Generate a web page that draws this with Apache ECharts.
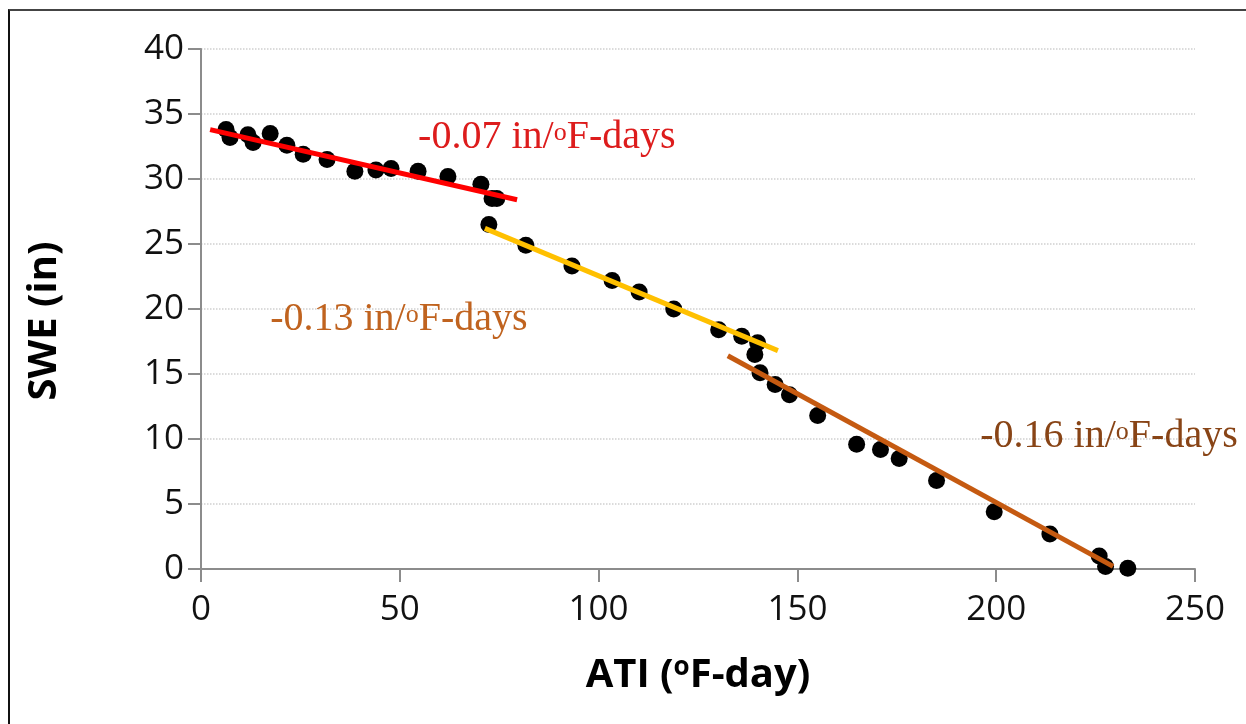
<!DOCTYPE html>
<html>
<head>
<meta charset="utf-8">
<script src="https://cdn.jsdelivr.net/npm/echarts@6/dist/echarts.min.js"></script>
<style>
html,body{margin:0;padding:0;background:#fff;}
#chart{width:1246px;height:724px;position:absolute;left:0;top:0;}
#frame{position:absolute;left:8px;top:9px;width:1238px;height:715px;border-top:2px solid #444;border-left:2px solid #111;pointer-events:none;}
</style>
</head>
<body>
<div id="chart"></div>
<div id="frame"></div>
<script>
// Observed points: ATI (°F-day) vs SWE (in)
const ati = [6.3,7.3,11.8,13.1,17.4,21.6,25.7,31.7,38.7,44.0,47.8,54.6,62.1,70.4,73.2,74.4,72.4,81.7,93.3,103.4,110.2,118.9,130.2,136.0,140.0,139.3,140.6,144.4,148.0,155.1,164.9,170.9,175.6,185.0,199.5,213.5,225.9,227.5,233.1];
const swe = [33.8,33.2,33.4,32.8,33.5,32.6,31.9,31.5,30.6,30.7,30.8,30.6,30.2,29.6,28.5,28.5,26.5,24.9,23.3,22.2,21.3,20.0,18.4,17.9,17.4,16.5,15.1,14.2,13.4,11.8,9.6,9.2,8.5,6.8,4.4,2.7,1.0,0.2,0.05];

// Fitted segment endpoints [ATI, SWE]
const redLine = [[2.3,33.8],[79.5,28.4]];
const yellowLine = [[71.4,26.2],[145.1,16.8]];
const brownLine = [[132.5,16.4],[229.4,0.2]];

// Annotation anchors [ATI, SWE] and texts
const annotations = [
  {pos:[54.6,33.2], slope:'-0.07', color:'#dd1c1c'},
  {pos:[17.4,19.2], slope:'-0.13', color:'#c0631f'},
  {pos:[196.0,10.2], slope:'-0.16', color:'#884416'}
];

const xTicks = {min:0, max:250, interval:50};
const yTicks = {min:0, max:40, interval:5};

const points = ati.map((x,i)=>[x, swe[i]]);

const chart = echarts.init(document.getElementById('chart'), null, {renderer:'canvas'});

const axisLineStyle = {color:'#8c8c8c', width:2};

const option = {
  animation:false,
  backgroundColor:'transparent',
  grid:{left:201, right:51, top:49, bottom:155, containLabel:false},
  xAxis:{
    type:'value', min:xTicks.min, max:xTicks.max, interval:xTicks.interval,
    name:'{b|ATI (}{s|o}{b|F-day)}', nameLocation:'middle', nameGap:84,
    nameTextStyle:{rich:{
      b:{fontFamily:'Open Sans', fontWeight:'bold', fontSize:40, color:'#000', lineHeight:46},
      s:{fontFamily:'Open Sans', fontWeight:'bold', fontSize:26, color:'#000', verticalAlign:'top', lineHeight:46, padding:[2,0,0,0]}
    }},
    axisLine:{show:true, lineStyle:axisLineStyle},
    axisTick:{show:true, length:13, lineStyle:axisLineStyle},
    axisLabel:{fontFamily:'Open Sans', fontSize:35, color:'#111', margin:24},
    splitLine:{show:false}
  },
  yAxis:{
    type:'value', min:yTicks.min, max:yTicks.max, interval:yTicks.interval,
    name:'SWE (in)', nameLocation:'middle', nameGap:136, nameRotate:90,
    nameTextStyle:{fontFamily:'Open Sans', fontWeight:'bold', fontSize:40, color:'#000', padding:[0,24,0,0]},
    axisLine:{show:true, lineStyle:axisLineStyle},
    axisTick:{show:true, length:13, lineStyle:axisLineStyle},
    axisLabel:{fontFamily:'Open Sans', fontSize:35, color:'#111', margin:17},
    splitLine:{show:true, lineStyle:{color:'#d0d0d0', type:'dotted', width:1.5}}
  },
  series:[
    {type:'scatter', data:points, symbol:'circle', symbolSize:17,
     itemStyle:{color:'#000', opacity:1}, z:2},
    {type:'line', data:redLine, showSymbol:false, symbol:'none',
     lineStyle:{color:'#ff0000', width:5, cap:'butt'}, z:3},
    {type:'line', data:yellowLine, showSymbol:false, symbol:'none',
     lineStyle:{color:'#ffc000', width:5, cap:'butt'}, z:3},
    {type:'line', data:brownLine, showSymbol:false, symbol:'none',
     lineStyle:{color:'#c55a11', width:5, cap:'butt'}, z:3},
    {type:'scatter', symbolSize:0, silent:true, z:4,
     itemStyle:{opacity:1},
     data:annotations.map(a=>({
       value:a.pos,
       slope:a.slope,
       label:{opacity:1, rich:{
         t:{fontFamily:'Liberation Serif', fontSize:40, lineHeight:46, color:a.color},
         s:{fontFamily:'Liberation Serif', fontSize:26, lineHeight:40, verticalAlign:'top', padding:[6,0,0,0], color:a.color}
       }}
     })),
     label:{show:true, position:'right', distance:0, opacity:1,
       formatter:(p)=>'{t|'+p.data.slope+' in/}{s|o}{t|F-days}'
     }
    }
  ]
};
chart.setOption(option);
</script>
</body>
</html>
